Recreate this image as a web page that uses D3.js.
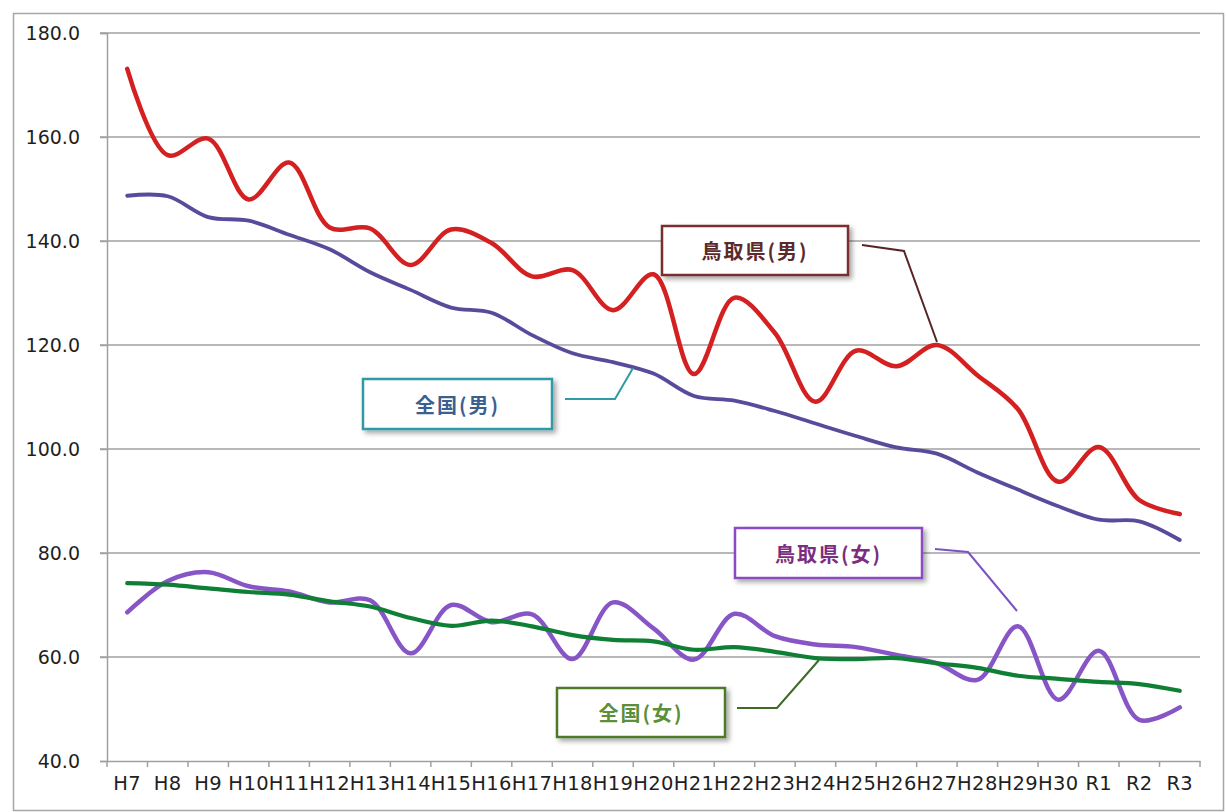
<!DOCTYPE html>
<html><head><meta charset="utf-8">
<script src="https://cdn.jsdelivr.net/npm/d3@7"></script>
<style>
html,body{margin:0;padding:0;background:#fff;}
svg{display:block;}
</style></head>
<body>
<svg id="chart" width="1226" height="812"></svg>
<script>
const categories = ["H7","H8","H9","H10","H11","H12","H13","H14","H15","H16","H17","H18","H19","H20","H21","H22","H23","H24","H25","H26","H27","H28","H29","H30","R1","R2","R3"];
const tottoriMale   = [173.1,156.5,159.7,148.0,155.1,142.6,142.4,135.4,142.2,139.6,133.2,134.4,126.7,133.6,114.4,129.1,122.3,109.1,118.9,115.9,120.0,114.2,107.7,93.7,100.4,90.2,87.5];
const nationalMale  = [148.7,148.6,144.6,143.9,141.2,138.4,134.0,130.6,127.2,126.2,121.9,118.4,116.7,114.5,110.2,109.3,107.3,104.9,102.5,100.3,99.1,95.5,92.2,89.0,86.4,86.1,82.5];
const tottoriFemale = [68.6,74.6,76.3,73.6,72.6,70.5,70.9,60.7,70.0,66.7,68.2,59.6,70.5,65.5,59.5,68.3,64.0,62.4,61.9,60.4,58.8,55.6,65.9,51.8,61.2,47.9,50.3];
const nationalFemale= [74.2,73.9,73.2,72.5,72.0,70.7,69.7,67.5,66.0,67.0,65.9,64.2,63.3,63.0,61.4,61.9,61.0,59.8,59.6,59.8,58.8,57.9,56.4,55.8,55.2,54.8,53.5];
const yTicks = [40,60,80,100,120,140,160,180];
const seriesNames = ["鳥取県(男)","全国(男)","鳥取県(女)","全国(女)"];

const svg = d3.select("#chart");
const L = 107, R = 1200, T = 33, B = 761;

const defs = svg.append("defs");
const f = defs.append("filter").attr("id","shadow").attr("x","-10%").attr("y","-20%").attr("width","130%").attr("height","160%");
f.append("feDropShadow").attr("dx",3).attr("dy",3).attr("stdDeviation",2.5).attr("flood-color","#000").attr("flood-opacity",0.35);

// outer border
svg.append("rect").attr("x",13.5).attr("y",13.5).attr("width",1210).attr("height",797)
  .attr("fill","#fff").attr("stroke","#a6a6a6").attr("stroke-width",1.5);

const x = d3.scaleBand().domain(categories).range([L,R]).padding(0);
const y = d3.scaleLinear().domain([40,180]).range([B,T]);
const cx = c => x(c) + x.bandwidth()/2;

// gridlines
svg.append("g").selectAll("line").data(yTicks.filter(d=>d>40)).join("line")
  .attr("x1",L-7).attr("x2",R).attr("y1",d=>y(d)).attr("y2",d=>y(d))
  .attr("stroke","#a0a0a0").attr("stroke-width",1.5);

// y axis
const yAxis = svg.append("g").attr("transform",`translate(${L},0)`)
  .call(d3.axisLeft(y).tickValues(yTicks).tickFormat(d3.format(".1f")).tickSize(7).tickPadding(20));
yAxis.select(".domain").attr("stroke","#a0a0a0").attr("stroke-width",1.5);
yAxis.selectAll(".tick line").attr("stroke","#a0a0a0").attr("stroke-width",1.5);
yAxis.selectAll("text").attr("font-family","DejaVu Sans, Verdana, sans-serif").attr("font-size",19).attr("fill","#1f1f1f");

// x axis
const xAxis = svg.append("g").attr("transform",`translate(0,${B})`)
  .call(d3.axisBottom(x).tickSize(0).tickPadding(15));
xAxis.select(".domain").attr("stroke","#a0a0a0").attr("stroke-width",1.5);
xAxis.selectAll("text").attr("font-family","DejaVu Sans, Verdana, sans-serif").attr("font-size",19.5)
  .attr("letter-spacing","0.4px").attr("fill","#1f1f1f");
svg.append("g").selectAll("line").data(categories.map(c=>x(c)).concat([R])).join("line")
  .attr("x1",d=>d).attr("x2",d=>d).attr("y1",B).attr("y2",B+6)
  .attr("stroke","#a0a0a0").attr("stroke-width",1.5);

// lines
const line = d3.line().x((d,i)=>cx(categories[i])).y(d=>y(d)).curve(d3.curveCatmullRom.alpha(0.5));
const series = [
  {vals: tottoriFemale, color:"#8755c6", w:4.5},
  {vals: nationalFemale, color:"#0f7f35", w:4.2},
  {vals: nationalMale, color:"#5a4a9c", w:3.8},
  {vals: tottoriMale, color:"#d42020", w:4.5}
];
series.forEach(s=>{
  svg.append("path").datum(s.vals).attr("d",line).attr("fill","none")
    .attr("stroke",s.color).attr("stroke-width",s.w).attr("stroke-linejoin","round").attr("stroke-linecap","round");
});

// callouts
const callouts = [
  {name: seriesNames[0], box:[662,226,186,49], border:"#7a2e2e", text:"#5c2a2a", lead:[[862,245],[904,251],[937,342]], leadColor:"#5a2424"},
  {name: seriesNames[1], box:[363,379,189,50], border:"#2f9aa8", text:"#3b5f8f", lead:[[565,399],[615,399],[633,368]], leadColor:"#2f9aa8"},
  {name: seriesNames[2], box:[735,528,187,50], border:"#8a4cc2", text:"#7c2d80", lead:[[935,549],[968,552],[1017,611]], leadColor:"#7d52c4"},
  {name: seriesNames[3], box:[557,688,168,49], border:"#4d7a2c", text:"#5b8f38", lead:[[737,708],[777,708],[819,660]], leadColor:"#3d6a25"}
];
callouts.forEach(c=>{
  svg.append("path").attr("d", d3.line()(c.lead)).attr("fill","none").attr("stroke",c.leadColor).attr("stroke-width",2);
  svg.append("rect").attr("x",c.box[0]).attr("y",c.box[1]).attr("width",c.box[2]).attr("height",c.box[3])
    .attr("fill","#fff").attr("stroke",c.border).attr("stroke-width",2.5).attr("filter","url(#shadow)");
  svg.append("text").attr("x",c.box[0]+c.box[2]/2).attr("y",c.box[1]+c.box[3]/2)
    .attr("text-anchor","middle").attr("dominant-baseline","central")
    .attr("font-family","Noto Sans CJK JP, sans-serif").attr("font-weight","bold").attr("font-size",20)
    .attr("letter-spacing","2px").attr("fill",c.text).text(c.name);
});
</script>
</body></html>
